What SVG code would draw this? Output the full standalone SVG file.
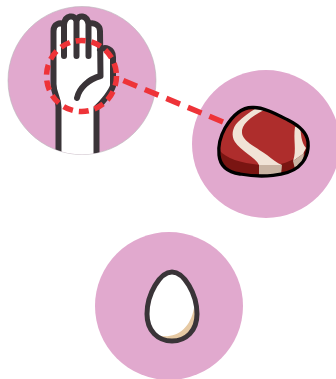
<svg xmlns="http://www.w3.org/2000/svg" width="336" height="379" viewBox="0 0 336 379">
<style>
.bg{fill:#e1a9ce}
.ink{fill:none;stroke:#3a3438;stroke-width:6;stroke-linecap:round;stroke-linejoin:round}
.red{fill:none;stroke:#ee3338;stroke-width:5.500}
</style>
<defs><clipPath id="c1"><circle cx="82" cy="80.500" r="74"/></clipPath></defs>
<g id="hand-node">
<circle class="bg" cx="82" cy="80.500" r="74" stroke="#b9b4b8" stroke-width="0.600"/>
<g clip-path="url(#c1)">
<path d="M59,165L97,165L97,108L113,86L113,56C113,50 108,48 104,49L100,51L99.500,31C99,25 94,23 89,24C88,17 80,15 76,19C73,15 65,15 64,24C59,22 53,24 53.500,31L53.500,84C53.500,94 58.500,98 58.500,107Z" fill="#fff"/>
<path class="ink" d="M58.500,165L58.500,107C58.500,98 53.500,94 53.500,84L53.500,31C53.500,24 60,22 64,24.500L64,56M64,24.500C65,15 75,14 76.500,21L76.500,56M76.500,21C78,14 87,15 88.500,24L88.500,56M88.500,24C94,22 100,25 100,31L100.500,76M100,50C105,46 113,49 113,57L113,86C111,92 103,102 96.500,108L96.500,165M100.500,76C89,79 79,88 77,98"/>
</g>
</g>
<g id="meat-node">
<circle class="bg" cx="266" cy="144" r="74"/>
<path d="M253,107.500C241,107 231,118 225,128C220,137 218,146 219,155C220,166 227,172 240,174C262,178 287,176 298,167C305,161 309,152 308,142C307,133 300,126 288,120C276,114 263,107 253,107.500Z" fill="#ae2d2c"/>
<path d="M220,151C226,158 240,163 260,165C280,167 298,161 308,146C307,155 304,162 298,167C287,176 262,178 240,174C227,172 220,164 220,151Z" fill="#7a1512"/>
<path d="M255,109L264,110C250,117 241,125 242,133C243,142 258,148 267,155C272,159 277,163 282,165L259,165C256,158 240,150 235,142C231,136 232,128 238,122C243,117 250,112 255,109Z" fill="#f1e3d6"/>
<path d="M259,165L282,165L281,175L259,176Z" fill="#c9b3a2"/>
<path d="M295,127L300,125C301,134 301,142 306,148L303,154L293,161C297,150 293,140 295,127Z" fill="#f1e3d6"/>
<path d="M293,161L304,153L303,162L295,169Z" fill="#c9b3a2"/>
<path d="M253,107.500C241,107 231,118 225,128C220,137 218,146 219,155C220,166 227,172 240,174C262,178 287,176 298,167C305,161 309,152 308,142C307,133 300,126 288,120C276,114 263,107 253,107.500Z" fill="none" stroke="#000" stroke-width="3.300"/>
</g>
<g id="egg-node">
<circle class="bg" cx="169" cy="306" r="74"/>
<path d="M172,272C160,272 147,294 147,314C147,331 158,341 172,341C186,341 197,331 197,314C197,294 184,272 172,272Z" fill="#fff"/>
<path d="M155,335C175,340 190,330 194,308C197,320 196,332 186,338C175,343 163,342 155,335Z" fill="#e6c9a3"/>
<path d="M172,272C160,272 147,294 147,314C147,331 158,341 172,341C186,341 197,331 197,314C197,294 184,272 172,272Z" fill="none" stroke="#3a3438" stroke-width="5"/>
</g>
<g id="connectors">
<ellipse class="red" cx="81.500" cy="76" rx="35" ry="35.500" stroke-dasharray="10 6"/>
<path class="red" d="M123.300,80.500L223,122" stroke-dasharray="14.800 8.500"/>
</g>
</svg>
